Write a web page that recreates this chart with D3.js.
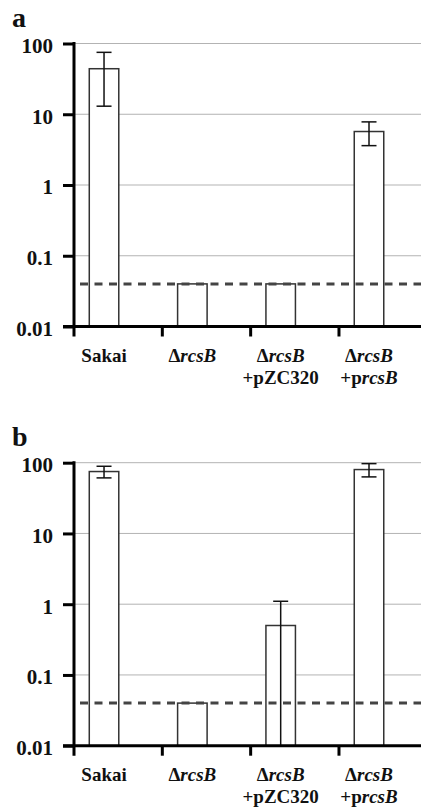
<!DOCTYPE html>
<html>
<head>
<meta charset="utf-8">
<script src="https://cdn.jsdelivr.net/npm/d3@7"></script>
<style>
  html, body { margin: 0; padding: 0; background: #fff; }
  svg { display: block; }
  text { font-family: "Liberation Serif", "Tinos", "Times New Roman", "DejaVu Serif", serif; font-weight: bold; fill: #111; }
</style>
</head>
<body>
<svg id="chart" width="421" height="809"></svg>
<script>
// --- Данные ---
const categories = ["Sakai", "ΔrcsB", "ΔrcsB|+pZC320", "ΔrcsB|+prcsB"];
const valuesA = [44, 0.04, 0.04, 5.7];
const errorsA = [31, 0, 0, 2.1];
const valuesB = [75, 0.04, 0.5, 80];
const errorsB = [14, 0, 0.6, 17];
const yTicks = [100, 10, 1, 0.1, 0.01];
const yTickLabels = ["100", "10", "1", "0.1", "0.01"];
const detectionLimit = 0.04;

const serif = '"Liberation Serif", "Tinos", "Times New Roman", "DejaVu Serif", serif';
const svg = d3.select("#chart");

// Подпись категории: "rcsB" курсивом
function addLabelLine(textSel, line) {
  const parts = line.split(/(rcsB)/).filter(s => s.length);
  parts.forEach(p => {
    textSel.append("tspan")
      .style("font-style", p === "rcsB" ? "italic" : "normal")
      .text(p);
  });
}

function drawPanel(top, letter, values, errors) {
  const yTop = top, yBottom = top + 283;
  const g = svg.append("g");

  const x = d3.scaleBand().domain(categories).range([74, 427.3]);
  const y = d3.scaleLog().domain([0.01, 100]).range([yBottom, yTop]);
  const bw = x.bandwidth();
  const barX = c => x(c) + bw * 0.173;
  const barW = bw * 0.334;
  const barC = c => barX(c) + barW / 2;

  // буква панели
  g.append("text")
    .attr("x", 12).attr("y", yTop - 17)
    .style("font-family", serif)
    .style("font-size", "28px")
    .text(letter);

  // сетка
  g.append("g")
    .selectAll("line")
    .data(yTicks.slice(0, -1))
    .join("line")
    .attr("x1", 74).attr("x2", 421)
    .attr("y1", d => y(d)).attr("y2", d => y(d))
    .attr("stroke", "#b3b3b3")
    .attr("stroke-width", 1);

  // столбцы
  g.append("g")
    .selectAll("rect")
    .data(categories)
    .join("rect")
    .attr("x", c => barX(c))
    .attr("width", barW)
    .attr("y", (c, i) => y(values[i]))
    .attr("height", (c, i) => y(0.01) - y(values[i]))
    .attr("fill", "#fff")
    .attr("stroke", "#333")
    .attr("stroke-width", 1.5);

  // планки погрешностей
  const capW = 15;
  categories.forEach((c, i) => {
    if (!errors[i]) return;
    const hi = values[i] + errors[i];
    const lo = values[i] - errors[i];
    const cx = barC(c);
    const yLo = lo > 0.01 ? y(lo) : y(0.01);
    g.append("line")
      .attr("x1", cx).attr("x2", cx)
      .attr("y1", y(hi)).attr("y2", yLo)
      .attr("stroke", "#111").attr("stroke-width", 1.5);
    g.append("line")
      .attr("x1", cx - capW / 2).attr("x2", cx + capW / 2)
      .attr("y1", y(hi)).attr("y2", y(hi))
      .attr("stroke", "#111").attr("stroke-width", 1.5);
    if (lo > 0.01) {
      g.append("line")
        .attr("x1", cx - capW / 2).attr("x2", cx + capW / 2)
        .attr("y1", y(lo)).attr("y2", y(lo))
        .attr("stroke", "#111").attr("stroke-width", 1.5);
    }
  });

  // предел обнаружения (пунктир)
  g.append("line")
    .attr("x1", 80).attr("x2", 421)
    .attr("y1", y(detectionLimit)).attr("y2", y(detectionLimit))
    .attr("stroke", "#444")
    .attr("stroke-width", 3)
    .attr("stroke-dasharray", "8,6.5");

  // ось Y
  const yAxis = g.append("g")
    .attr("transform", "translate(74,0)")
    .call(d3.axisLeft(y)
      .tickValues(yTicks)
      .tickFormat((d, i) => yTickLabels[i])
      .tickSize(11)
      .tickSizeOuter(0)
      .tickPadding(10));
  yAxis.attr("font-family", null);
  yAxis.select(".domain").remove();
  yAxis.selectAll(".tick line").attr("stroke", "#000").attr("stroke-width", 3);
  yAxis.selectAll(".tick text")
    .attr("dy", "0.42em")
    .style("font-size", "21px")
    .style("font-family", serif)
    .style("font-weight", "bold")
    .attr("fill", "#111");

  g.append("line")
    .attr("x1", 74).attr("x2", 74)
    .attr("y1", yTop - 1.5).attr("y2", yBottom + 10)
    .attr("stroke", "#000").attr("stroke-width", 3);

  // ось X
  g.append("line")
    .attr("x1", 63).attr("x2", 421)
    .attr("y1", yBottom).attr("y2", yBottom)
    .attr("stroke", "#000").attr("stroke-width", 3);
  g.append("g")
    .selectAll("line")
    .data(categories.slice(1))
    .join("line")
    .attr("x1", c => x(c)).attr("x2", c => x(c))
    .attr("y1", yBottom).attr("y2", yBottom + 10)
    .attr("stroke", "#000").attr("stroke-width", 3);

  // подписи категорий
  categories.forEach(c => {
    const lines = c.split("|");
    lines.forEach((line, li) => {
      const t = g.append("text")
        .attr("x", barC(c))
        .attr("y", yBottom + 35 + li * 22)
        .attr("text-anchor", "middle")
        .style("font-family", serif)
        .style("font-size", "19px");
      addLabelLine(t, line);
    });
  });
}

drawPanel(43.5, "a", valuesA, errorsA);
drawPanel(462.7, "b", valuesB, errorsB);
</script>
</body>
</html>
